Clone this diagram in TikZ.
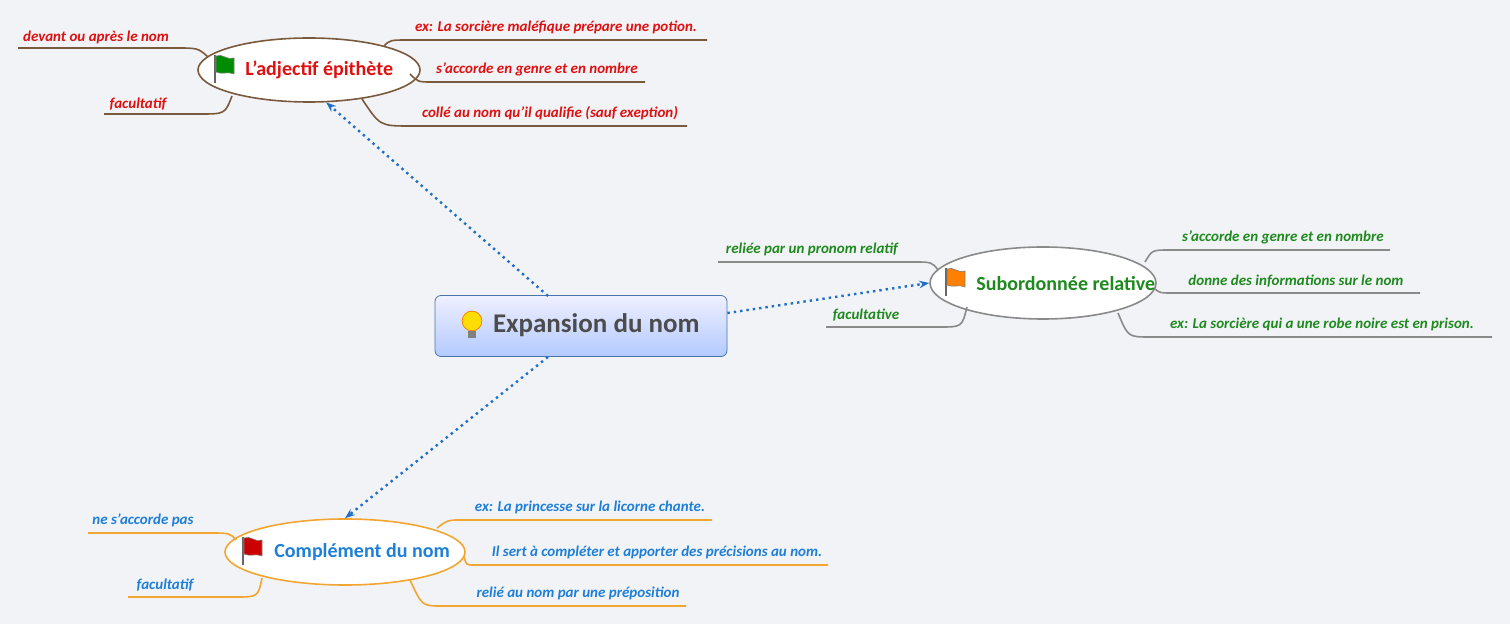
\documentclass[tikz,border=0pt]{standalone}
\usepackage{fontspec}
\setmainfont{Carlito}
\usetikzlibrary{shapes.geometric,arrows.meta}
\definecolor{bg}{HTML}{F2F3F7}
\definecolor{brn}{HTML}{7A5A3C}
\definecolor{gry}{HTML}{8A8A8A}
\definecolor{org}{HTML}{F2A530}
\definecolor{rd}{HTML}{E01010}
\definecolor{gr}{HTML}{1E8A1E}
\definecolor{bl}{HTML}{1E7FD8}
\definecolor{arr}{HTML}{1F6FC8}
\tikzset{
 lbl/.style={font=\fontsize{7.5}{8}\selectfont\bfseries\itshape, anchor=south, inner sep=1pt},
 topic/.style={ellipse, fill=white, line width=0.8pt, inner sep=0pt},
 ttext/.style={font=\fontsize{10}{11}\selectfont\bfseries, anchor=west, inner sep=0pt},
 link/.style={arr, line width=1.2pt, dotted, -{Stealth[length=5pt]}},
 br/.style={line width=0.8pt},
}
\newcommand{\myflag}[2]{%
 \fill[black!60] (#1) ++(-1,13) rectangle ++(2,-28);
 \fill[#2, draw=black!50, line width=0.3pt] (#1) ++(1,-14) .. controls ++(6,-3) and ++(-6,3) .. ++(18,2) -- ++(0,16) .. controls ++(-6,-3) and ++(6,3) .. ++(-18,-2) -- cycle;}
\begin{document}
\begin{tikzpicture}[x=0.5pt,y=-0.5pt]
\fill[bg] (0,0) rectangle (1510,624);
\useasboundingbox (0,0) rectangle (1510,624);
% central
\node[draw=arr!60!gray, rounded corners=3pt, top color=blue!6, bottom color=cyan!30!blue!30, minimum width=146pt, minimum height=30.5pt, inner sep=0pt] (c) at (581,326) {};
\node[font=\fontsize{13.5}{14}\selectfont\bfseries, text=black!70, anchor=west] (ct) at (486,325) {Expansion du nom};
\node[circle, fill=yellow!80!orange, draw=orange, inner sep=3.5pt, line width=0.4pt] (bulb) at (472,321) {};
\fill[gray] (468,331) rectangle (476,338);
% topics
\node[topic, draw=brn, minimum width=111pt, minimum height=32pt] (adj) at (309,70) {};
\node[ttext, rd] (adjt) at (245,70) {L'adjectif épithète};
\myflag{215,70}{green!55!black}
\node[topic, draw=gry, minimum width=113pt, minimum height=36pt] (sub) at (1043,283) {};
\node[ttext, gr] (subt) at (976,284) {Subordonnée relative};
\myflag{946,283}{orange}
\node[topic, draw=org, minimum width=120pt, minimum height=33pt] (cdn) at (345,552) {};
\node[ttext, bl] (cdnt) at (274,552) {Complément du nom};
\myflag{243,552}{red!80!black}
% attachment points
\coordinate (a1) at (208,57); \coordinate (a2) at (232,96);
\coordinate (a3) at (384,46); \coordinate (a4) at (410,74); \coordinate (a5) at (362,99);
\coordinate (s1) at (938,270); \coordinate (s2) at (967,307);
\coordinate (s3) at (1145,262); \coordinate (s4) at (1155,289); \coordinate (s5) at (1118,313);
\coordinate (k1) at (236,540); \coordinate (k2) at (262,578);
\coordinate (k3) at (437,528); \coordinate (k4) at (464,556); \coordinate (k5) at (410,580);
% links
\draw[link] (548,296) -- (adj.-62);
\draw[link] (c.east) ++(0,-13) -- (sub.west);
\draw[link] (548,357) -- (cdn.north);
% adj branches
\begin{scope}[brn, br]
\draw (18,48) -- (175,48) .. controls (198,48) .. (a1);
\node[lbl, rd] at (96,47) {devant ou après le nom};
\draw (104,114) -- (200,114) .. controls (225,114) .. (a2);
\node[lbl, rd] at (138,113) {facultatif};
\draw (a3) .. controls (390,40) .. (410,40) -- (707,40);
\node[lbl, rd] at (556,37) {ex: La sorcière maléfique prépare une potion.};
\draw (a4) .. controls (418,82) .. (432,82) -- (645,82);
\node[lbl, rd] at (537,79) {s'accorde en genre et en nombre};
\draw (a5) .. controls (380,126) .. (410,126) -- (687,126);
\node[lbl, rd] at (550,123) {collé au nom qu'il qualifie (sauf exeption)};
\end{scope}
% sub branches
\begin{scope}[gry, br]
\draw (718,262) -- (912,262) .. controls (932,262) .. (s1);
\node[lbl, gr] at (812,259) {reliée par un pronom relatif};
\draw (826,327) -- (940,327) .. controls (962,327) .. (s2);
\node[lbl, gr] at (866,324) {facultative};
\draw (s3) .. controls (1152,250) .. (1170,250) -- (1390,250);
\node[lbl, gr] at (1283,247) {s'accorde en genre et en nombre};
\draw (s4) .. controls (1160,293) .. (1172,293) -- (1420,293);
\node[lbl, gr] at (1296,290) {donne des informations sur le nom};
\draw (s5) .. controls (1128,337) .. (1150,337) -- (1492,337);
\node[lbl, gr] at (1322,334) {ex: La sorcière qui a une robe noire est en prison.};
\end{scope}
% cdn branches
\begin{scope}[org, br]
\draw (88,533) -- (208,533) .. controls (230,533) .. (k1);
\node[lbl, bl] at (143,530) {ne s'accorde pas};
\draw (128,597) -- (235,597) .. controls (258,597) .. (k2);
\node[lbl, bl] at (165,594) {facultatif};
\draw (k3) .. controls (448,520) .. (460,520) -- (712,520);
\node[lbl, bl] at (590,517) {ex: La princesse sur la licorne chante.};
\draw (k4) .. controls (466,565) .. (474,565) -- (828,565);
\node[lbl, bl] at (657,562) {Il sert à compléter et apporter des précisions au nom.};
\draw (k5) .. controls (422,606) .. (442,606) -- (686,606);
\node[lbl, bl] at (578,603) {relié au nom par une préposition};
\end{scope}
\end{tikzpicture}
\end{document}
